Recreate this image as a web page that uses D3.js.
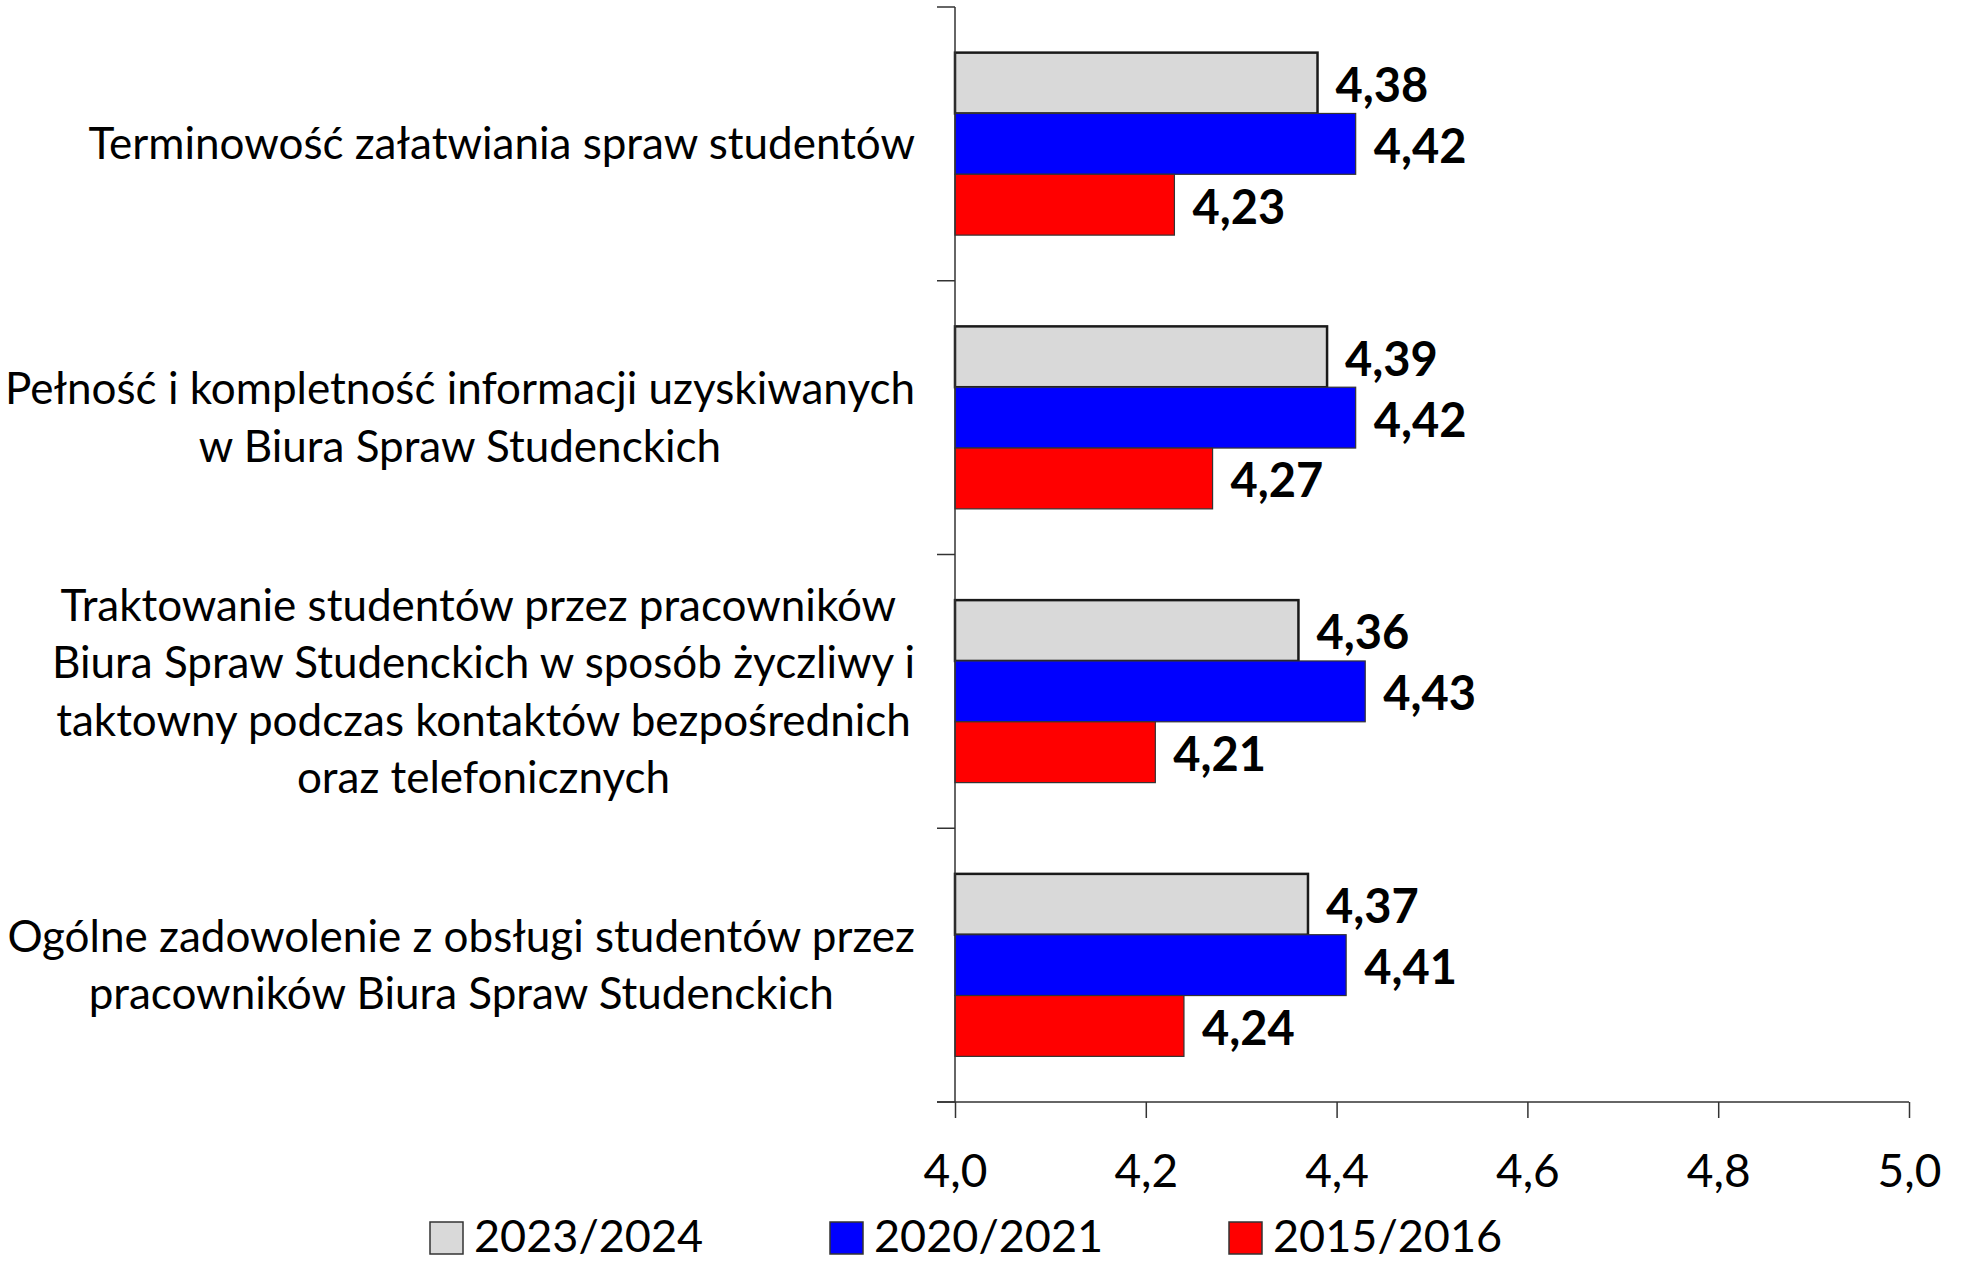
<!DOCTYPE html>
<html><head><meta charset="utf-8">
<script src="https://cdn.jsdelivr.net/npm/d3@7"></script>
<style>html,body{margin:0;padding:0;background:#fff;}svg{display:block;}</style>
</head><body>
<script>
const categories = [
  ["Terminowość załatwiania spraw studentów"],
  ["Pełność i kompletność informacji uzyskiwanych", "w Biura Spraw Studenckich"],
  ["Traktowanie studentów przez pracowników ", "Biura Spraw Studenckich w sposób życzliwy i", "taktowny podczas kontaktów bezpośrednich", "oraz telefonicznych"],
  ["Ogólne zadowolenie z obsługi studentów przez", "pracowników Biura Spraw Studenckich"]
];
const seriesNames = ["2023/2024", "2020/2021", "2015/2016"];
const values2023 = [4.38, 4.39, 4.36, 4.37];
const values2020 = [4.42, 4.42, 4.43, 4.41];
const values2015 = [4.23, 4.27, 4.21, 4.24];
const xTicks = [4.0, 4.2, 4.4, 4.6, 4.8, 5.0];
const colors = ["#d9d9d9", "#0000ff", "#ff0000"];

const seriesValues = [values2023, values2020, values2015];
const W = 1966, H = 1262;
const svg = d3.select("body").append("svg").attr("width", W).attr("height", H);
const FONT = "Lato, 'Open Sans', sans-serif";
const fmt = v => v.toFixed(2).replace(".", ",");
const fmtTick = v => v.toFixed(1).replace(".", ",");

const x = d3.scaleLinear().domain([4, 5]).range([955, 1909]);
const catIdx = categories.map((c, i) => i);
const y = d3.scaleBand().domain(catIdx).range([7, 1102]).paddingInner(0).paddingOuter(0);
const ys = d3.scaleBand().domain([0, 1, 2]).range([0, y.bandwidth()]).paddingInner(0).paddingOuter(0.75);

// bars
const rows = [];
catIdx.forEach(ci => seriesValues.forEach((vals, si) => rows.push({ci, si, v: vals[ci]})));
svg.append("g").selectAll("rect").data(rows).join("rect")
  .attr("x", x(4))
  .attr("y", d => y(d.ci) + ys(d.si))
  .attr("width", d => x(d.v) - x(4))
  .attr("height", ys.bandwidth())
  .attr("fill", d => colors[d.si])
  .attr("stroke", d => d.si === 0 ? "#1a1a1a" : "#333")
  .attr("stroke-width", d => d.si === 0 ? 2.5 : 1.2);

// value labels
svg.append("g").selectAll("text").data(rows).join("text")
  .attr("x", d => x(d.v) + 18)
  .attr("y", d => y(d.ci) + ys(d.si) + ys.bandwidth() / 2 + 2)
  .attr("dy", "0.36em")
  .attr("font-family", FONT).attr("font-weight", "bold").attr("font-size", 47)
  .attr("fill", "#000")
  .text(d => fmt(d.v));

// y axis (category)
const yAxisG = svg.append("g").attr("transform", `translate(${x(4)},0)`);
yAxisG.append("line").attr("x1", 0).attr("x2", 0).attr("y1", 7).attr("y2", 1102).attr("stroke", "#333").attr("stroke-width", 1.5);
const catEdges = [y(0)].concat(catIdx.map(i => y(i) + y.bandwidth()));
yAxisG.selectAll("line.t").data(catEdges).join("line").attr("class", "t")
  .attr("x1", -18).attr("x2", 0).attr("y1", d => d).attr("y2", d => d)
  .attr("stroke", "#333").attr("stroke-width", 1.5);

// x axis
const xAxis = d3.axisBottom(x).tickValues(xTicks).tickSize(16).tickFormat(fmtTick);
const xg = svg.append("g").attr("transform", "translate(0,1102)").call(xAxis);
xg.select(".domain").remove();
xg.append("line").attr("x1", x(4) - 18).attr("x2", x(5)).attr("y1", 0).attr("y2", 0).attr("stroke", "#333").attr("stroke-width", 1.5);
xg.selectAll(".tick line").attr("stroke", "#333").attr("stroke-width", 1.5);
xg.selectAll(".tick text").attr("font-family", FONT).attr("font-size", 46).attr("fill", "#000")
  .attr("y", 52).attr("dy", "0.71em");

// category labels
const LINE_H = 57.5;
const labelRight = 915;
const catG = svg.append("g");
categories.forEach((lines, ci) => {
  const g = catG.append("g");
  const cy = y(ci) + y.bandwidth() / 2;
  const n = lines.length;
  const t = g.append("text").attr("font-family", FONT).attr("font-size", 44).attr("fill", "#000")
    .attr("text-anchor", "middle").attr("xml:space", "preserve");
  lines.forEach((ln, li) => {
    t.append("tspan").attr("x", 0).attr("y", cy + (li - (n - 1) / 2) * LINE_H).attr("dy", "0.35em").text(ln);
  });
  const widths = [];
  t.selectAll("tspan").each(function(){ widths.push(this.getComputedTextLength()); });
  const maxW = d3.max(widths);
  g.attr("transform", `translate(${labelRight - maxW / 2},0)`);
});

// legend
const legendX = [430, 830, 1229];
const lg = svg.append("g");
seriesNames.forEach((name, i) => {
  lg.append("rect").attr("x", legendX[i]).attr("y", 1222).attr("width", 33).attr("height", 32)
    .attr("fill", colors[i]).attr("stroke", "#333").attr("stroke-width", 1.5);
  lg.append("text").attr("x", legendX[i] + 44).attr("y", 1236).attr("dy", "0.36em")
    .attr("font-family", FONT).attr("font-size", 45).attr("fill", "#000").text(name);
});
</script>
</body></html>
